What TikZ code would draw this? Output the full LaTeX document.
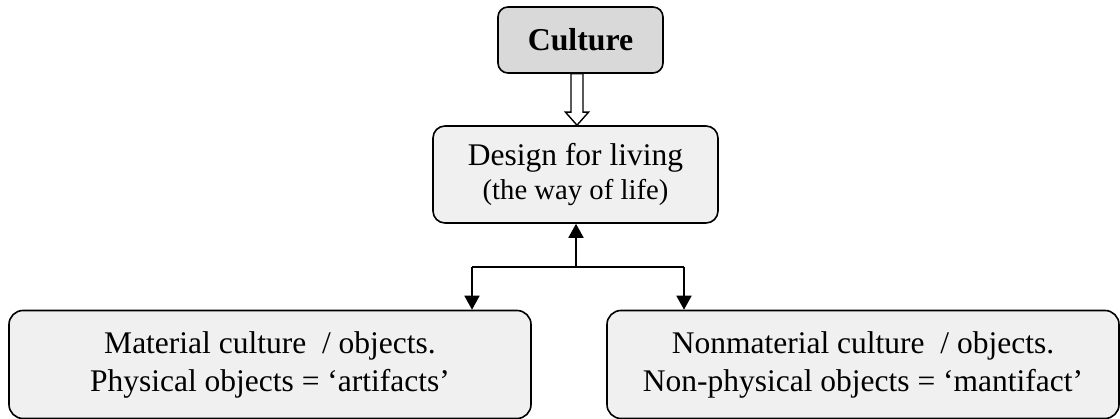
\documentclass[tikz,border=0pt]{standalone}
\usepackage{fontspec}
\setmainfont{Liberation Serif}
\usetikzlibrary{arrows.meta,calc}
\definecolor{headfill}{gray}{0.85}
\definecolor{boxfill}{gray}{0.94}
\begin{document}
\begin{tikzpicture}[x=1pt,y=-1pt,
  box/.style={draw=black,line width=1.6pt,rounded corners=12pt,fill=boxfill,
    align=center,inner sep=0pt},
  link/.style={line width=1.8pt,-{Triangle[length=14pt,width=15pt]}}]
\useasboundingbox (0,0) rectangle (1120,419);
% top heading and the central box
\node[box,fill=headfill,rounded corners=10pt,minimum width=165pt,minimum height=66pt,
  font=\fontsize{31.8}{34}\selectfont\bfseries] (culture) at (580.5,40) {Culture};
\node[box,minimum width=285pt,minimum height=97pt,
  font=\fontsize{31.5}{34}\selectfont] (design) at (575.5,174.5)
  {Design for living\\
   {\fontsize{28.7}{34}\selectfont (the way of life)}};
% the two kinds of culture
\node[box,rounded corners=14pt,minimum width=522pt,minimum height=108pt,
  font=\fontsize{31.5}{38}\selectfont] (material) at (270,364.5)
  {Material culture \ / objects.\\Physical objects = ‘artifacts’};
\node[box,rounded corners=14pt,minimum width=512pt,minimum height=108pt,
  font=\fontsize{31.5}{38}\selectfont] (nonmaterial) at (863,364.5)
  {Nonmaterial culture \ / objects.\\Non-physical objects = ‘mantifact’};
% hollow double arrow from Culture down to Design for living
\coordinate (shaft) at (577,0);
\coordinate (tip) at (design.north -| shaft);
\draw[line width=1.4pt,fill=white,line join=miter]
  ($(culture.south -| shaft)+(-6,0)$) -- ($(culture.south -| shaft)+(6,0)$)
  -- ($(tip)+(6,-13)$) -- ($(tip)+(11.5,-13)$)
  -- (tip) -- ($(tip)+(-11.5,-13)$)
  -- ($(tip)+(-6,-13)$) -- cycle;
% branching connectors
\coordinate (junction) at (576,267);
\coordinate (jleft) at (472,267);
\coordinate (jright) at (684,267);
\draw[link] (junction) -- (design.south -| junction);
\draw[line width=1.8pt] (jleft) -- (jright);
\draw[link] (jleft) -- (jleft |- material.north);
\draw[link] (jright) -- (jright |- nonmaterial.north);
\end{tikzpicture}
\end{document}
